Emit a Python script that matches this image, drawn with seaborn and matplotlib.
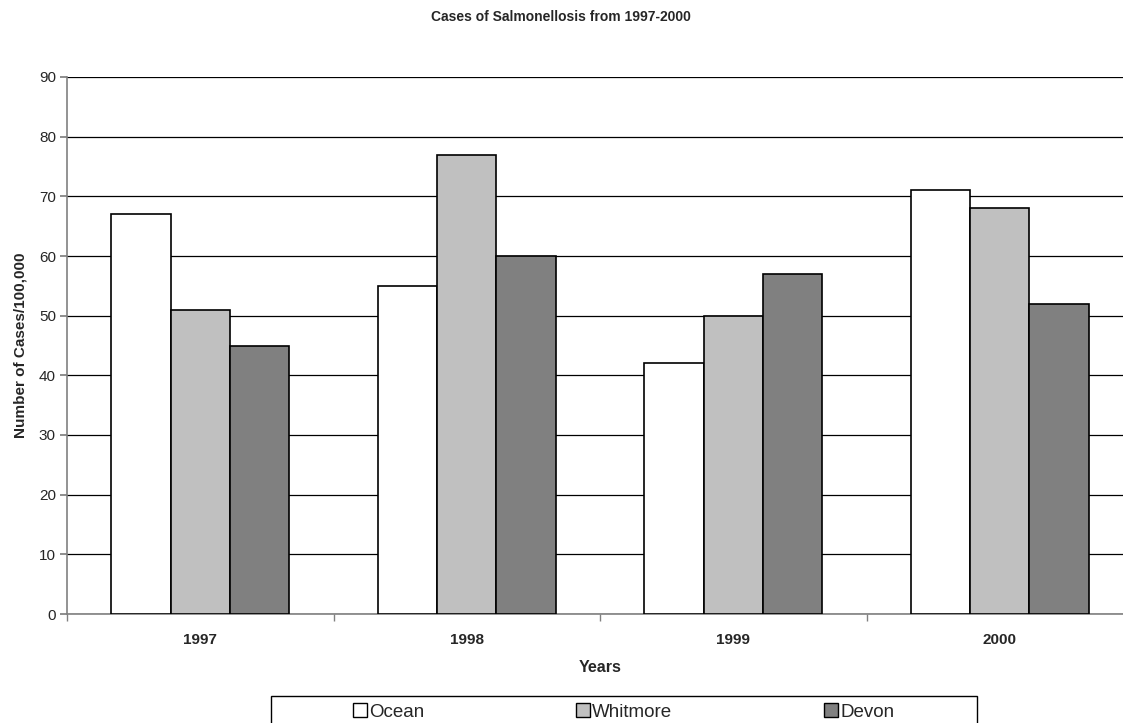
import matplotlib
matplotlib.use("Agg")
import matplotlib.pyplot as plt
import seaborn as sns
import pandas as pd
from matplotlib.patches import Patch, Rectangle

years = ["1997", "1998", "1999", "2000"]
counties = ["Ocean", "Whitmore", "Devon"]
ocean = [67, 55, 42, 71]
whitmore = [51, 77, 50, 68]
devon = [45, 60, 57, 52]
colors = ["#ffffff", "#c0c0c0", "#808080"]

df = pd.DataFrame({
    "Year": years * 3,
    "County": [c for c in counties for _ in years],
    "Cases": ocean + whitmore + devon,
})

sns.set_theme(style="white")
plt.rcParams["font.family"] = ["Liberation Sans", "DejaVu Sans"]

W, H = 1123, 723
fig = plt.figure(figsize=(W / 100, H / 100), dpi=100)
# plot area runs slightly past the right edge of the canvas
ax = fig.add_axes([67 / W, (H - 614) / H, (1133 - 67) / W, (614 - 77) / H])

sns.barplot(data=df, x="Year", y="Cases", hue="County", order=years,
            hue_order=counties, palette=colors, width=0.668, gap=0,
            edgecolor="black", linewidth=1.2, saturation=1, ax=ax,
            legend=False, zorder=3)

ax.set_ylim(0, 90)
ax.set_xlim(-0.5, 3.5)
ax.set_yticks(range(0, 91, 10))
ax.yaxis.grid(True, color="black", linewidth=0.9, zorder=0)
ax.set_axisbelow(True)

for s in ["top", "right"]:
    ax.spines[s].set_visible(False)
for s in ["left", "bottom"]:
    ax.spines[s].set_color("#808080")
    ax.spines[s].set_linewidth(1.2)

ax.tick_params(axis="y", which="major", direction="out", length=5,
               color="#808080", labelsize=11, pad=3, left=True)
ax.set_xticks([-0.5, 0.5, 1.5, 2.5, 3.5], minor=True)
ax.tick_params(axis="x", which="minor", direction="out", length=5,
               color="#808080", bottom=True)
ax.tick_params(axis="x", which="major", length=0, labelsize=11, pad=14)
for lbl in ax.get_xticklabels():
    lbl.set_fontweight("bold")

ax.set_xlabel("Years", fontsize=11.5, fontweight="bold", labelpad=9)
ax.set_ylabel("Number of Cases/100,000", fontsize=11, fontweight="bold", labelpad=8)
fig.text(561 / W, 1 - 17 / H, "Cases of Salmonellosis from 1997-2000",
         fontsize=10, fontweight="bold", ha="center", va="center")

# legend: framed strip with three equal-width columns, entries centred
box_l, box_r, box_t = 271, 977, 696
fig.patches.append(Rectangle((box_l / W, -0.05), (box_r - box_l) / W,
                             (H - box_t) / H + 0.05, transform=fig.transFigure,
                             facecolor="white", edgecolor="black",
                             linewidth=1.0, zorder=5))
col_w = (box_r - box_l) / 3
for i, (name, c) in enumerate(zip(counties, colors)):
    cx = box_l + col_w * (i + 0.5)
    h = Patch(facecolor=c, edgecolor="black", linewidth=1.0)
    leg = fig.legend([h], [name], loc="center", bbox_to_anchor=(cx / W, 1 - 712 / H),
                     frameon=False, fontsize=13.5, handlelength=0.75,
                     handleheight=0.75, handletextpad=0.15, borderpad=0,
                     borderaxespad=0)
    leg.set_zorder(6)

fig.savefig("out.png", dpi=100)
